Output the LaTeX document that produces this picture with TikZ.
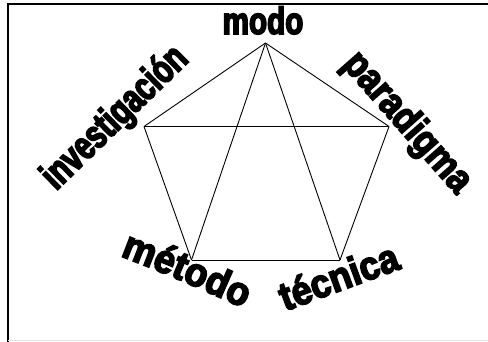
\documentclass[tikz,border=0pt]{standalone}
\usepackage{fontspec}
\usetikzlibrary{decorations.text}
\newfontfamily\fmodo[FakeBold=4,FakeStretch=0.78]{Liberation Sans Bold}
\newfontfamily\finv[FakeBold=4,FakeStretch=0.73]{Liberation Sans Bold}
\newfontfamily\fpar[FakeBold=4,FakeStretch=0.86]{Liberation Sans Bold}
\newfontfamily\fmet[FakeBold=4,FakeStretch=0.93]{Liberation Sans Bold}
\newfontfamily\ftec[FakeBold=4,FakeStretch=0.9]{Liberation Sans Bold}
\tikzset{
  edge/.style={draw=black, line width=0.9pt},
  arch/.style={decorate, decoration={text along path, text align=center, text color=black, #1}}
}
\begin{document}
\begin{tikzpicture}[x=1pt,y=-1pt]
\useasboundingbox (0,0) rectangle (488,342);
% frame
\draw[line width=1.4pt] (8,342) -- (8,4) -- (488,4);
\draw[line width=0.8pt, black!10] (8,340.5) -- (488,340.5);
% vertices
\coordinate (T) at (265.5,43);
\coordinate (L) at (144,126.5);
\coordinate (R) at (389,126.5);
\coordinate (BL) at (191.5,260);
\coordinate (BR) at (340,260);
% edges
\draw[edge] (T) -- (L);
\draw[edge] (T) -- (R);
\draw[edge] (L) -- (R);
\draw[edge] (L) -- (BL);
\draw[edge] (R) -- (BR);
\draw[edge] (BL) -- (BR);
\draw[edge] (T) -- (BL);
\draw[edge] (T) -- (BR);
% labels
\node[anchor=base, inner sep=0pt] (modo) at (263,34) {\fmodo\fontsize{38}{38}\selectfont modo};
\path[arch={text={|\finv\fontsize{40}{40}\selectfont|investigación}}] (42,205) -- (204,47);
\path[arch={text={|\fpar\fontsize{40}{40}\selectfont|paradigma}}] (325,46) -- (473,214);
\path[arch={text={|\fmet\fontsize{40}{40}\selectfont|método}}] (98,248) .. controls (150,266) and (215,295) .. (265,318);
\path[arch={text={|\ftec\fontsize{40}{40}\selectfont|técnica}}] (262,320) .. controls (315,300) and (370,280) .. (425,260);
\end{tikzpicture}
\end{document}
